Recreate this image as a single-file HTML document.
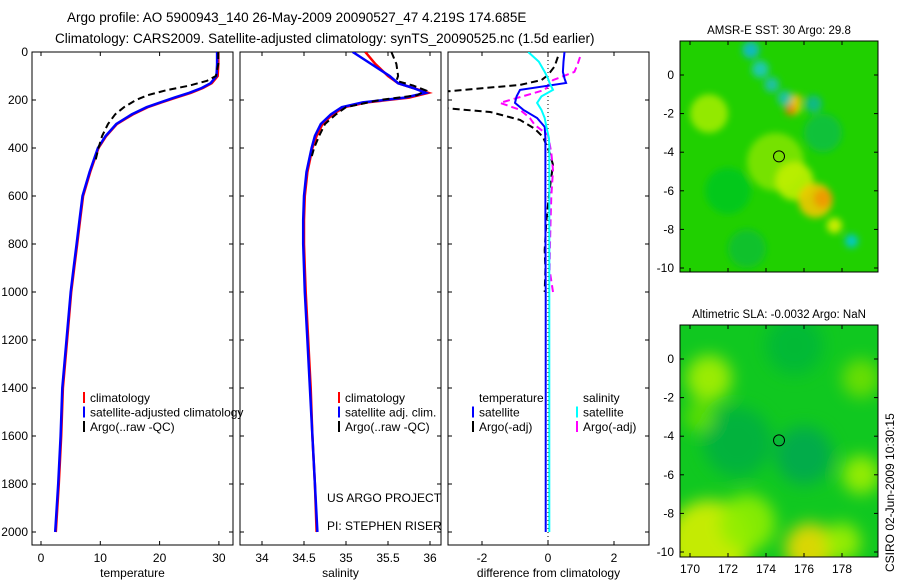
<!DOCTYPE html>
<html><head><meta charset="utf-8"><style>
html,body{margin:0;padding:0;background:#fff}
svg{display:block;font-family:"Liberation Sans",sans-serif}
text{font-size:12px;fill:#000}
</style></head><body>
<svg id="fig" width="900" height="580" viewBox="0 0 900 580" xmlns="http://www.w3.org/2000/svg">
<defs>
<filter id="blur1" x="-50%" y="-50%" width="200%" height="200%"><feGaussianBlur stdDeviation="3.5"/></filter>
<filter id="blur2" x="-50%" y="-50%" width="200%" height="200%"><feGaussianBlur stdDeviation="8"/></filter>
<clipPath id="c1"><rect x="32" y="52" width="201" height="493"/></clipPath>
<clipPath id="c2"><rect x="240" y="52" width="201" height="493"/></clipPath>
<clipPath id="c3"><rect x="448" y="52" width="201" height="493"/></clipPath>
<clipPath id="cm1"><rect x="680" y="41" width="198" height="231"/></clipPath>
<clipPath id="cm2"><rect x="680" y="325" width="198" height="232"/></clipPath>
</defs>
<text x="67" y="22" style="font-size:13.5px">Argo profile: AO 5900943_140 26-May-2009 20090527_47 4.219S 174.685E</text>
<text x="55" y="43" style="font-size:13.5px">Climatology: CARS2009. Satellite-adjusted climatology: synTS_20090525.nc (1.5d earlier)</text>
<g id="root"></g>
<text x="327" y="502">US ARGO PROJECT</text>
<text x="327" y="530">PI: STEPHEN RISER</text>
<text transform="translate(894,572) rotate(-90)">CSIRO 02-Jun-2009 10:30:15</text>
</svg>
<script>
// ---------- data ----------
const depthTicks=[0,200,400,600,800,1000,1200,1400,1600,1800,2000];
const tTicks=[0,10,20,30];
const sTicks=[34,34.5,35,35.5,36];
const dTicks=[-2,0,2];
const climDepth=[0,50,100,130,150,170,190,210,230,260,300,350,400,500,600,700,800,900,1000,1200,1400,1600,1800,2000];
const climTemp=[29.9,29.9,29.8,28.8,27.3,25.3,22.8,20.3,18,15.5,12.8,11,9.7,8.3,7.1,6.6,6.1,5.6,5.1,4.4,3.7,3.4,3.0,2.5];
const satTemp=[29.7,29.7,29.6,28.6,27.1,25.0,22.5,20.1,17.8,15.3,12.7,10.9,9.6,8.2,7.0,6.5,6.0,5.5,5.0,4.3,3.6,3.3,2.9,2.4];
const argoDepth=[0,50,100,120,140,160,180,200,230,260,300,350,400,450];
const argoTemp=[29.9,29.9,29.5,28,25,21,18,16,14,12.5,11.3,10.3,9.7,9.2];
const climSal=[35.23,35.35,35.5,35.62,35.8,35.98,35.75,35.25,34.98,34.84,34.72,34.65,34.6,34.54,34.51,34.5,34.5,34.51,34.52,34.55,34.58,34.6,34.63,34.65];
const satSal=[35.08,35.3,35.52,35.62,35.8,35.95,35.7,35.2,34.95,34.82,34.7,34.63,34.59,34.53,34.5,34.49,34.49,34.5,34.51,34.54,34.57,34.6,34.63,34.66];
const argoSal=[35.54,35.6,35.62,35.6,35.8,35.95,35.85,35.4,35.0,34.88,34.75,34.68,34.62,34.58];
const dDepth=[0,40,83,110,129,158,185,212,241,275,312,360,400,500,700,1000,1500,2000];
const dSatT=[0.5,0.47,0.45,0.5,0.55,-0.85,-0.95,-1.0,-0.75,-0.33,-0.1,-0.08,-0.08,-0.08,-0.08,-0.07,-0.07,-0.07];
const dSatS=[-0.6,-0.28,-0.1,0,0.05,0.15,-0.2,-0.33,-0.2,-0.1,-0.05,0.03,0.04,0.04,0.04,0.04,0.04,0.04];
const aDepth=[20,60,96,117,137,166,200,233,250,283,320,354,420,470,575,700,825,908,1000];
const dArgoT=[0.3,0.2,0,-0.2,-0.85,-3.2,-3.5,-3.2,-1.75,-0.85,-0.4,-0.15,0.05,0.15,0.05,-0.05,-0.1,-0.08,-0.1];
const aSDepth=[21,50,83,117,158,190,212,241,275,304,346,420,492,600,700,800,908,1000];
const dArgoS=[0.97,0.9,0.8,0.15,-0.1,-0.9,-1.45,-0.85,-0.55,-0.4,0,0.1,0.15,0.1,0.08,0.06,0.05,0.15];
const lonTicks=[170,172,174,176,178];
const latTicks=[0,-2,-4,-6,-8,-10];
// map blobs: lon, lat, radius(deg), color
const sstLon=[171,174.5,175.5,176.6,177,177.6,178.5,173.2,173.7,174.3,175,175.5,176.5,175.3,175.6,172,177,173];
const sstLat=[-2,-4.5,-5.5,-6.5,-6.4,-7.8,-8.6,1.3,0.3,-0.5,-1.2,-1.7,-1.5,-1.8,-1.3,-6,-3,-9];
const sstR=[1.0,1.5,1.0,0.9,0.5,0.4,0.35,0.45,0.45,0.4,0.4,0.35,0.45,0.3,0.3,1.2,1.0,1.0];
const sstC=["#a0ec00","#80e400","#c0f000","#f0c800","#f09800","#d8f000","#00c8d8","#10b8d0","#20c8c0","#20c0b0","#20c0b0","#f0e000","#10b890","#e08000","#f0c000","#00c820","#10c040","#10c030"];
const slaLon=[172.5,176,175.5,171,176.3,171,179,179,173,178,170.5];
const slaLat=[-4.3,-5,0.7,-9.5,-9.8,-1,-1,-6,-8.5,-9.5,-3];
const slaR=[1.8,1.5,1.5,2.2,1.3,1.2,1.0,1.0,1.5,1.0,0.8];
const slaC=["#00b040","#00a850","#00b838","#d8f000","#f0d800","#a8f000","#70e000","#a0f000","#90ee00","#a0f000","#60e000"];
const floatLon=[174.685];
const floatLat=[-4.219];

const NS="http://www.w3.org/2000/svg";
const root=document.getElementById('root');
function mk(tag,attrs,parent){const e=document.createElementNS(NS,tag);for(const k in attrs)e.setAttribute(k,attrs[k]);(parent||root).appendChild(e);return e;}
function txt(x,y,s,anchor,parent,size){const t=mk('text',{x:x,y:y,'text-anchor':anchor||'start'},parent);if(size)t.style.fontSize=size;t.textContent=s;return t;}

const yD=d=>52+d*0.24;
const xT=v=>41+v*5.93;
const xS=v=>262+(v-34)*84;
const xDf=v=>548+v*33;

function frame(x,y,w,h,name){const r=mk('rect',{x:x,y:y,width:w,height:h,fill:'none',stroke:'#000','stroke-width':1});

}
function line(xs,ys,color,width,dash,clip,name){
 const pts=xs.map((v,i)=>v.toFixed(1)+','+ys[i].toFixed(1)).join(' ');
 const p=mk('polyline',{points:pts,fill:'none',stroke:color,'stroke-width':width,'clip-path':'url(#'+clip+')'});
 if(dash)p.setAttribute('stroke-dasharray',dash);
 
 
}
function panelAxes(x0,w,ticks,xf,label,showY){
 const g=mk('g',{});
 
 
 depthTicks.forEach(d=>{const y=yD(d);
  mk('line',{x1:x0,y1:y,x2:x0+4,y2:y,stroke:'#000'},g);mk('line',{x1:x0+w-4,y1:y,x2:x0+w,y2:y,stroke:'#000'},g);
  if(showY)txt(x0-4,y+4,String(d),'end',g);});
 ticks.forEach(v=>{const x=xf(v);mk('line',{x1:x,y1:52,x2:x,y2:56,stroke:'#000'},g);mk('line',{x1:x,y1:541,x2:x,y2:545,stroke:'#000'},g);
  txt(x,562,String(v),'middle',g);});
 txt(x0+w/2,577,label,'middle',g);
}
// panel 1
frame(32,52,201,493,'temperature-panel');
panelAxes(32,201,tTicks,xT,'temperature',true);
line(climTemp.map(xT),climDepth.map(yD),'#f00',2.5,null,'c1','climatology-temp-line');
line(satTemp.map(xT),climDepth.map(yD),'#00f',2.5,null,'c1','satellite-temp-line');
line(argoTemp.map(xT),argoDepth.map(yD),'#000',2,'7,4','c1','argo-temp-line');
// panel 2
frame(240,52,201,493,'salinity-panel');
panelAxes(240,201,sTicks,xS,'salinity',false);
line(climSal.map(xS),climDepth.map(yD),'#f00',2.5,null,'c2','climatology-sal-line');
line(satSal.map(xS),climDepth.map(yD),'#00f',2.5,null,'c2','satellite-sal-line');
line(argoSal.map(xS),argoDepth.map(yD),'#000',2,'7,4','c2','argo-sal-line');
// panel 3
frame(448,52,201,493,'difference-panel');
panelAxes(448,201,dTicks,xDf,'difference from climatology',false);
mk('line',{x1:xDf(0),y1:52,x2:xDf(0),y2:545,stroke:'#000','stroke-dasharray':'1,3'});
line(dArgoT.map(xDf),aDepth.map(yD),'#000',2,'7,4','c3','argo-temp-diff-line');
line(dArgoS.map(xDf),aSDepth.map(yD),'#f0f',2,'7,4','c3','argo-sal-diff-line');
line(dSatT.map(xDf),dDepth.map(yD),'#00f',2,null,'c3','satellite-temp-diff-line');
line(dSatS.map(xDf),dDepth.map(yD),'#0ff',2,null,'c3','satellite-sal-diff-line');
// legends
function leg(x,y,items,name){const g=mk('g',{});
 items.forEach((it,i)=>{const yy=y+i*14.5;if(it[1])mk('rect',{x:x,y:yy-10,width:2,height:11,fill:it[1]},g);txt(x+7,yy,it[0],'start',g);});}
leg(83,402,[['climatology','#f00'],['satellite-adjusted climatology','#00f'],['Argo(..raw -QC)','#000']],'temperature-legend');
leg(338,402,[['climatology','#f00'],['satellite adj. clim.','#00f'],['Argo(..raw -QC)','#000']],'salinity-legend');
leg(472,402,[['temperature',null],['satellite','#00f'],['Argo(-adj)','#000']],'diff-temp-legend');
leg(576,402,[['salinity',null],['satellite','#0ff'],['Argo(-adj)','#f0f']],'diff-sal-legend');
// maps
function map(y0,h,clip,base,lons,lats,rs,cs,title,name,blur){
 const xL=v=>690+(v-170)*19;
 const yL=v=>(y0+34)-v*19.3;
 const g=mk('g',{'clip-path':'url(#'+clip+')'});
 
 
 mk('rect',{x:680,y:y0,width:198,height:h,fill:base},g);
 const gb=mk('g',{filter:'url(#'+blur+')'},g);
 lons.forEach((lo,i)=>{const c=mk('ellipse',{cx:xL(lo),cy:yL(lats[i]),rx:rs[i]*19,ry:rs[i]*19.3,fill:cs[i],opacity:0.9},gb);
  
  });
 floatLon.forEach((lo,i)=>{const c=mk('circle',{cx:xL(lo),cy:yL(floatLat[i]),r:5.5,fill:'none',stroke:'#000'},root);
  
  });
 frame(680,y0,198,h,name+'-frame');
 lonTicks.forEach(v=>{const x=xL(v);mk('line',{x1:x,y1:y0,x2:x,y2:y0+4,stroke:'#000'});mk('line',{x1:x,y1:y0+h-4,x2:x,y2:y0+h,stroke:'#000'});
  if(name==='sla-map')txt(x,y0+h+16,String(v),'middle');});
 latTicks.forEach(v=>{const y=yL(v);mk('line',{x1:680,y1:y,x2:684,y2:y,stroke:'#000'});mk('line',{x1:874,y1:y,x2:878,y2:y,stroke:'#000'});
  txt(674,y+4,String(v),'end');});
 const t=txt(779,y0-7,title,'middle');t.style.fontSize='11.5px';
}
map(41,231,'cm1','#20d000',sstLon,sstLat,sstR,sstC,'AMSR-E SST: 30 Argo: 29.8','sst-map','blur1');
map(325,232,'cm2','#10c820',slaLon,slaLat,slaR,slaC,'Altimetric SLA: -0.0032 Argo: NaN','sla-map','blur2');
</script>
</body></html>
